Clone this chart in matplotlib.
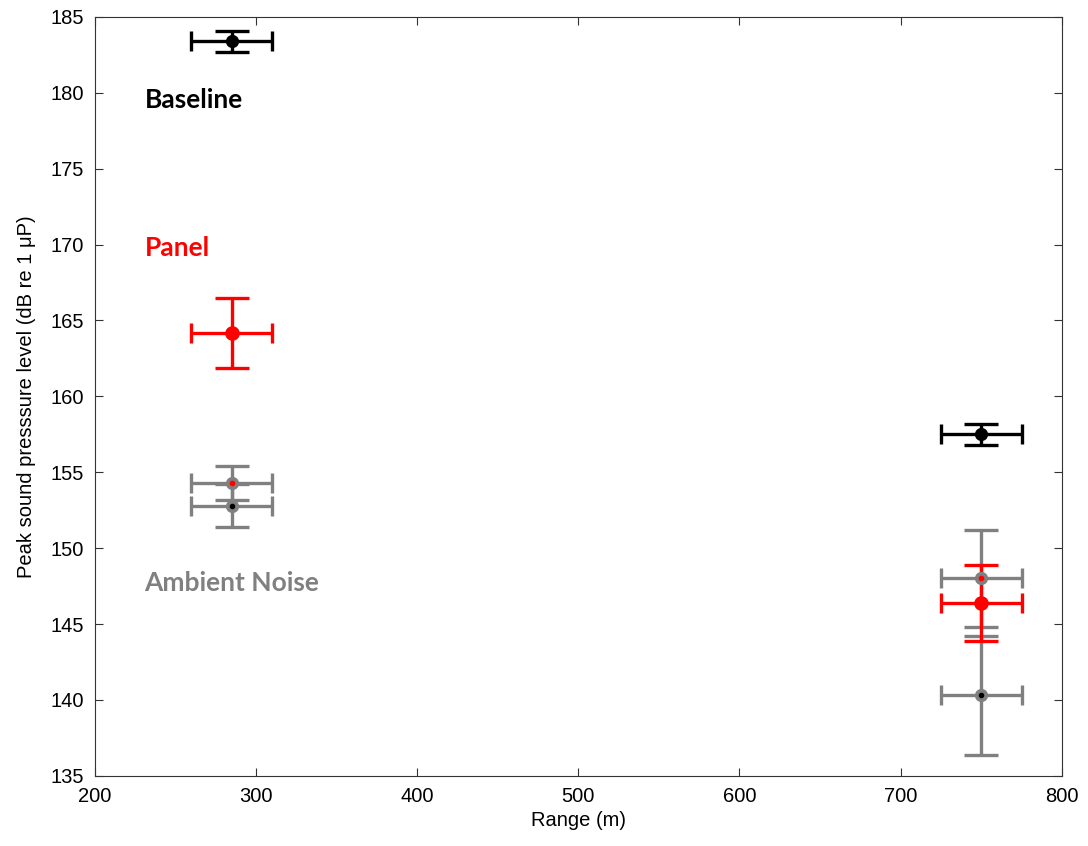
import numpy as np
import matplotlib
matplotlib.use("Agg")
import matplotlib.pyplot as plt

plt.rcParams["font.family"] = ["Liberation Sans", "DejaVu Sans"]

# Baseline (black), Panel (red), Ambient noise (grey, inner dot colour marks which case)
base_x = [285, 750]
base_y = [183.4, 157.5]
base_yerr = [0.7, 0.7]

panel_x = [285, 750]
panel_y = [164.2, 146.4]
panel_yerr = [2.3, 2.5]

amb_x = [285, 285, 750, 750]
amb_y = [154.3, 152.8, 148.0, 140.3]
amb_yerr = [1.1, 1.4, 3.2, 3.9]
amb_dot = ["red", "black", "red", "black"]

range_err = 25  # +/- metres, same for all points

fig, ax = plt.subplots(figsize=(10.88, 8.46), dpi=100)
fig.subplots_adjust(left=0.087, right=0.976, bottom=0.083, top=0.98)

grey = "#808080"
lw = 2.4


def draw(x, y, yerr, color, ms, mfc):
    # vertical bars have wide caps, horizontal bars short ones
    ax.errorbar(x, y, yerr=yerr, fmt="none", ecolor=color, elinewidth=lw,
                capsize=12, capthick=lw, zorder=2)
    ax.errorbar(x, y, xerr=range_err, fmt="none", ecolor=color, elinewidth=lw,
                capsize=7, capthick=lw, zorder=2)
    ax.plot(x, y, "o", color=color, mfc=mfc, ms=ms, mew=1.5, zorder=3)


draw(amb_x, amb_y, amb_yerr, grey, 8, grey)
for xi, yi, c in zip(amb_x, amb_y, amb_dot):
    ax.plot(xi, yi, "o", color=c, ms=3, zorder=4)
draw(panel_x, panel_y, panel_yerr, "red", 9, "red")
draw(base_x, base_y, base_yerr, "black", 8, "black")

ax.text(231, 179.5, "Baseline", color="black", fontsize=19, fontweight="bold",
        family="Lato", va="center")
ax.text(231, 169.8, "Panel", color="red", fontsize=19, fontweight="bold",
        family="Lato", va="center")
ax.text(231, 147.7, "Ambient Noise", color=grey, fontsize=19, fontweight="bold",
        family="Lato", va="center")

ax.set_xlim(200, 800)
ax.set_ylim(135, 185)
ax.set_xticks(np.arange(200, 801, 100))
ax.set_yticks(np.arange(135, 186, 5))
ax.tick_params(direction="in", top=True, right=True, length=6, labelsize=14.5,
               color="#333333")
ax.tick_params(axis="y", pad=8)
ax.tick_params(axis="x", pad=8)
for s in ax.spines.values():
    s.set_color("#333333")
ax.set_xlabel("Range (m)", fontsize=14.5, labelpad=4)
ax.set_ylabel("Peak sound presssure level (dB re 1 \u03bcP)", fontsize=14.5,
              labelpad=10)

fig.savefig("out.png", dpi=100)
